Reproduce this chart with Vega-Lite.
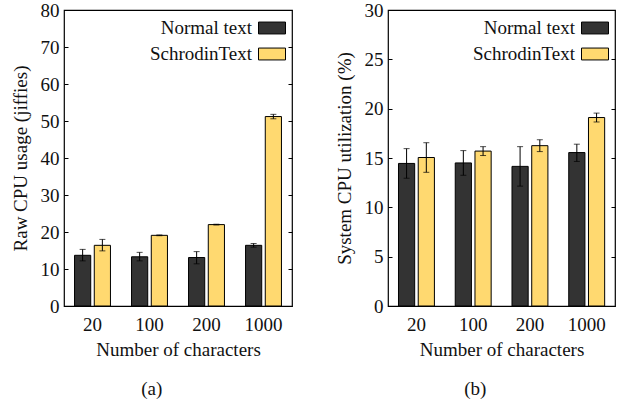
{
  "$schema": "https://vega.github.io/schema/vega-lite/v6.json",
  "padding": {"left": 10, "top": 0, "right": 5, "bottom": 5},
  "datasets": {
    "raw": [
      {"chars": "20", "method": "Normal text", "mean": 13.7, "lo": 12.2, "hi": 15.3},
      {"chars": "20", "method": "SchrodinText", "mean": 16.4, "lo": 14.9, "hi": 18.0},
      {"chars": "100", "method": "Normal text", "mean": 13.3, "lo": 12.2, "hi": 14.5},
      {"chars": "100", "method": "SchrodinText", "mean": 19.1, "lo": 19.0, "hi": 19.2},
      {"chars": "200", "method": "Normal text", "mean": 13.1, "lo": 11.4, "hi": 14.7},
      {"chars": "200", "method": "SchrodinText", "mean": 22.0, "lo": 21.9, "hi": 22.1},
      {"chars": "1000", "method": "Normal text", "mean": 16.4, "lo": 15.9, "hi": 16.9},
      {"chars": "1000", "method": "SchrodinText", "mean": 51.2, "lo": 50.6, "hi": 51.8}
    ],
    "sys": [
      {"chars": "20", "method": "Normal text", "mean": 14.45, "lo": 12.95, "hi": 15.95},
      {"chars": "20", "method": "SchrodinText", "mean": 15.05, "lo": 13.55, "hi": 16.55},
      {"chars": "100", "method": "Normal text", "mean": 14.5, "lo": 13.25, "hi": 15.75},
      {"chars": "100", "method": "SchrodinText", "mean": 15.7, "lo": 15.25, "hi": 16.15},
      {"chars": "200", "method": "Normal text", "mean": 14.15, "lo": 12.15, "hi": 16.15},
      {"chars": "200", "method": "SchrodinText", "mean": 16.25, "lo": 15.65, "hi": 16.85},
      {"chars": "1000", "method": "Normal text", "mean": 15.55, "lo": 14.65, "hi": 16.4},
      {"chars": "1000", "method": "SchrodinText", "mean": 19.1, "lo": 18.65, "hi": 19.55}
    ]
  },
  "spacing": 40,
  "resolve": {"scale": {"y": "independent", "color": "independent"}, "legend": {"color": "independent"}},
  "hconcat": [
    {
      "width": 228, "height": 296,
      "data": {"name": "raw"},
      "title": {"text": "(a)", "orient": "bottom", "frame": "bounds", "anchor": "middle", "offset": 21},
      "encoding": {
        "x": {"field": "chars", "type": "ordinal", "sort": ["20", "100", "200", "1000"],
              "scale": {"paddingInner": 0.37, "paddingOuter": 0.185},
              "axis": {"title": "Number of characters", "labelAngle": 0, "ticks": false, "domain": false, "labelPadding": 9, "titlePadding": 6}},
        "xOffset": {"field": "method", "type": "nominal", "sort": ["Normal text", "SchrodinText"], "scale": {"paddingInner": 0.18}}
      },
      "layer": [
        {
          "mark": {"type": "bar", "stroke": "black", "strokeWidth": 1},
          "encoding": {
            "y": {"field": "mean", "type": "quantitative", "scale": {"domain": [0, 80]},
                  "axis": {"title": "Raw CPU usage (jiffies)", "values": [0, 10, 20, 30, 40, 50, 60, 70, 80], "orient": "left", "tickSize": -4, "labelPadding": 9, "titlePadding": 10}},
            "color": {"field": "method", "type": "nominal", "sort": ["Normal text", "SchrodinText"],
                      "scale": {"range": ["#333333", "#FFD970"]},
                      "legend": {"title": null, "orient": "top-right", "offset": 4}}
          }
        },
        {
          "mark": {"type": "rule", "color": "black", "strokeWidth": 1},
          "encoding": {
            "y": {"field": "lo", "type": "quantitative", "axis": {"orient": "right", "labels": false, "title": null, "tickSize": -4, "values": [0, 10, 20, 30, 40, 50, 60, 70, 80], "domain": false}},
            "y2": {"field": "hi"}
          }
        },
        {
          "mark": {"type": "tick", "orient": "horizontal", "size": 6, "thickness": 1, "color": "black"},
          "encoding": {"y": {"field": "lo", "type": "quantitative", "axis": null}}
        },
        {
          "mark": {"type": "tick", "orient": "horizontal", "size": 6, "thickness": 1, "color": "black"},
          "encoding": {"y": {"field": "hi", "type": "quantitative", "axis": null}}
        }
      ],
      "resolve": {"axis": {"y": "independent"}}
    },
    {
      "width": 227, "height": 296,
      "data": {"name": "sys"},
      "title": {"text": "(b)", "orient": "bottom", "frame": "bounds", "anchor": "middle", "offset": 21},
      "encoding": {
        "x": {"field": "chars", "type": "ordinal", "sort": ["20", "100", "200", "1000"],
              "scale": {"paddingInner": 0.37, "paddingOuter": 0.185},
              "axis": {"title": "Number of characters", "labelAngle": 0, "ticks": false, "domain": false, "labelPadding": 9, "titlePadding": 6}},
        "xOffset": {"field": "method", "type": "nominal", "sort": ["Normal text", "SchrodinText"], "scale": {"paddingInner": 0.18}}
      },
      "layer": [
        {
          "mark": {"type": "bar", "stroke": "black", "strokeWidth": 1},
          "encoding": {
            "y": {"field": "mean", "type": "quantitative", "scale": {"domain": [0, 30]},
                  "axis": {"title": "System CPU utilization (%)", "values": [0, 5, 10, 15, 20, 25, 30], "orient": "left", "tickSize": -4, "labelPadding": 9, "titlePadding": 10}},
            "color": {"field": "method", "type": "nominal", "sort": ["Normal text", "SchrodinText"],
                      "scale": {"range": ["#333333", "#FFD970"]},
                      "legend": {"title": null, "orient": "top-right", "offset": 4}}
          }
        },
        {
          "mark": {"type": "rule", "color": "black", "strokeWidth": 1},
          "encoding": {
            "y": {"field": "lo", "type": "quantitative", "axis": {"orient": "right", "labels": false, "title": null, "tickSize": -4, "values": [0, 5, 10, 15, 20, 25, 30], "domain": false}},
            "y2": {"field": "hi"}
          }
        },
        {
          "mark": {"type": "tick", "orient": "horizontal", "size": 6, "thickness": 1, "color": "black"},
          "encoding": {"y": {"field": "lo", "type": "quantitative", "axis": null}}
        },
        {
          "mark": {"type": "tick", "orient": "horizontal", "size": 6, "thickness": 1, "color": "black"},
          "encoding": {"y": {"field": "hi", "type": "quantitative", "axis": null}}
        }
      ],
      "resolve": {"axis": {"y": "independent"}}
    }
  ],
  "config": {
    "font": "Liberation Serif",
    "view": {"stroke": "black", "strokeWidth": 1.2},
    "axis": {"labelFont": "Liberation Serif", "titleFont": "Liberation Serif", "labelFontSize": 19, "titleFontSize": 19,
             "labelColor": "#111", "titleColor": "#111", "titleFontWeight": "normal", "grid": false, "domain": false,
             "tickColor": "black", "tickWidth": 1},
    "legend": {"labelFont": "Liberation Serif", "labelFontSize": 19, "labelColor": "#111",
               "symbolType": "M-1,-0.44H1V0.44H-1Z", "symbolSize": 729, "symbolStrokeColor": "black", "symbolStrokeWidth": 1,
               "symbolOpacity": 1, "labelAlign": "right", "labelOffset": -34, "rowPadding": 2, "padding": 0},
    "title": {"font": "Liberation Serif", "fontSize": 19, "fontWeight": "normal", "color": "#111"}
  }
}
